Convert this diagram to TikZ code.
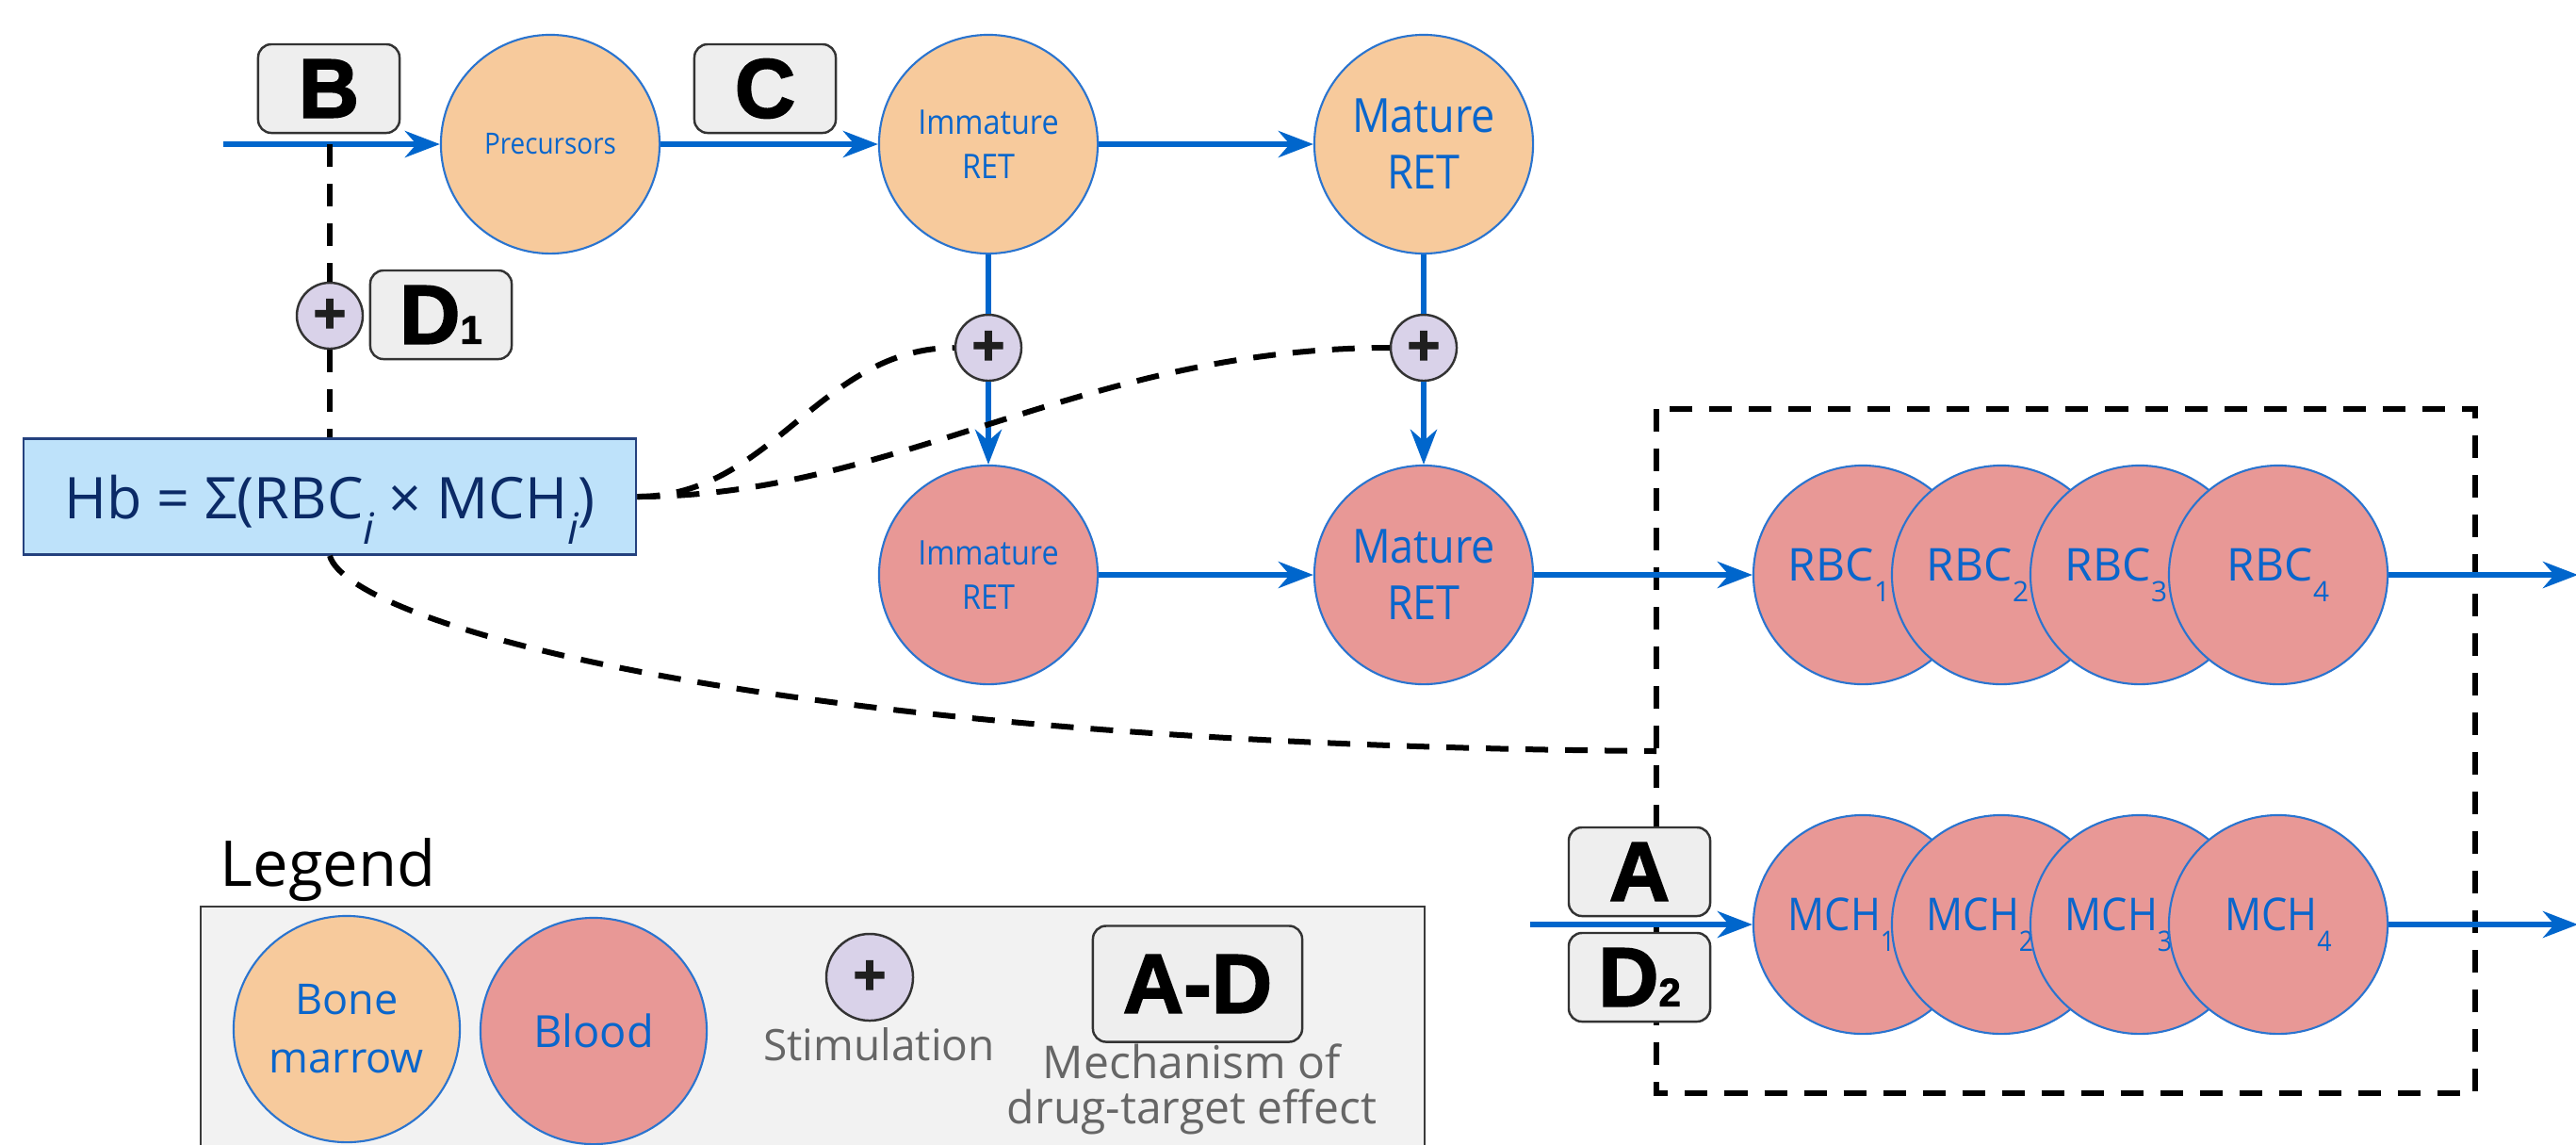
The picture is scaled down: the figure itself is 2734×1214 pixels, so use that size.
\documentclass[tikz,border=0pt]{standalone}
\usepackage{fontspec}
\usepackage{graphicx}
\setmainfont{Open Sans}
\newfontfamily\cellfont[FakeStretch=0.9]{Open Sans}
\newfontfamily\lblfont[BoldFeatures={FakeBold=2}]{Liberation Sans}
\usetikzlibrary{arrows.meta}
\definecolor{bmfill}{HTML}{F7CA9C}
\definecolor{blfill}{HTML}{E89896}
\definecolor{cellborder}{HTML}{2A74CF}
\definecolor{celltext}{HTML}{0A66CC}
\definecolor{flowblue}{HTML}{0066CC}
\definecolor{hbfill}{HTML}{BEE2FA}
\definecolor{hbborder}{HTML}{24417E}
\definecolor{hbtext}{HTML}{0B2A66}
\definecolor{lblfill}{HTML}{EEEEEE}
\definecolor{lblborder}{HTML}{333333}
\definecolor{plusfill}{HTML}{D9D2E9}
\definecolor{legfill}{HTML}{F2F2F2}
\definecolor{legborder}{HTML}{3A3A3A}
\definecolor{graytext}{HTML}{666666}
\newcommand\sbs[1]{\raisebox{-0.45em}{\scalebox{0.62}{#1}}}
\newcommand\isub{\raisebox{-0.45em}{\scalebox{0.75}{\itshape i}}}
\tikzset{
  cell/.style={circle, minimum size=2.32cm, inner sep=0pt, draw=cellborder, line width=0.6pt, text=celltext},
  bm/.style={cell, fill=bmfill},
  bl/.style={cell, fill=blfill},
  lbl/.style={rectangle, rounded corners=0.14cm, minimum width=1.5cm, minimum height=0.94cm, inner sep=0pt,
    fill=lblfill, draw=lblborder, line width=0.7pt, text=black,
    font={\lblfont\bfseries\fontsize{0.89cm}{1cm}\selectfont}},
  plusnode/.style={circle, minimum size=0.7cm, inner sep=0pt, fill=plusfill, draw=lblborder, line width=0.7pt,
    text=black!88, font={\lblfont\bfseries\fontsize{0.6cm}{0.6cm}\selectfont}},
  flow/.style={draw=flowblue, line width=0.06cm, -{Stealth[length=0.37cm, width=0.28cm, inset=0.12cm]}},
  flowline/.style={draw=flowblue, line width=0.06cm},
  dashline/.style={draw=black, line width=0.06cm, dash pattern=on 0.24cm off 0.18cm},
  legendframe/.style={draw=legborder, fill=legfill, line width=0.8pt},
}
\begin{document}
\begin{tikzpicture}[x=0.01cm,y=-0.01cm]
\useasboundingbox (0,0) rectangle (2734,1214);
\clip (0,0) rectangle (2734,1214);
% frames
\draw[dashline] (1758,434) rectangle (2627,1160);
\draw[legendframe] (213,962) rectangle (1512,1240);
% free ends
\coordinate (in0) at (237,153);
\coordinate (bj) at (350,153);
\coordinate (in2) at (1624,981);
\coordinate (out1) at (2736,610);
\coordinate (out2) at (2736,981);
\coordinate (dl) at (1758,797);
% bone marrow
\node[bm, font={\cellfont\fontsize{0.31cm}{0.37cm}\selectfont}] (prec) at (584,153) {Precursors};
\node[bm, align=center, font={\cellfont\fontsize{0.36cm}{0.47cm}\selectfont}] (imb) at (1049,153) {Immature\\RET};
\node[bm, align=center, font={\cellfont\fontsize{0.5cm}{0.6cm}\selectfont}] (mab) at (1511,153) {Mature\\RET};
% blood
\node[bl, align=center, font={\cellfont\fontsize{0.36cm}{0.47cm}\selectfont}] (iml) at (1049,610) {Immature\\RET};
\node[bl, align=center, font={\cellfont\fontsize{0.5cm}{0.6cm}\selectfont}] (mal) at (1511,610) {Mature\\RET};
\foreach \k/\xx in {1/1977,2/2124,3/2271}{
  \node[bl, font={\fontsize{0.48cm}{0.56cm}\selectfont}] (rbc\k) at (\xx,610) {RBC\sbs{\k}\kern0.5cm};
}
\node[bl, font={\fontsize{0.48cm}{0.56cm}\selectfont}] (rbc4) at (2418,610) {RBC\sbs{4}};
\foreach \k/\xx in {1/1977,2/2124,3/2271}{
  \node[bl, font={\cellfont\fontsize{0.48cm}{0.56cm}\selectfont}] (mch\k) at (\xx,981) {MCH\sbs{\k}\kern0.45cm};
}
\node[bl, font={\cellfont\fontsize{0.48cm}{0.56cm}\selectfont}] (mch4) at (2418,981) {MCH\sbs{4}};
% stimulation
\node[plusnode] (p0) at (350,335) {+};
\node[plusnode] (p1) at (1049,369) {+};
\node[plusnode] (p2) at (1511,369) {+};
% formula
\node[rectangle, minimum width=6.5cm, minimum height=1.23cm, inner sep=0pt, fill=hbfill, draw=hbborder,
  line width=0.7pt, text=hbtext, text height=0.46cm, text depth=0pt,
  font={\fontsize{0.61cm}{0.7cm}\selectfont}] (hb) at (350,527) {Hb = Σ(RBC\isub{} × MCH\isub{})};
% mechanism labels
\node[lbl] (lB) at (349,94) {B};
\node[lbl] (lC) at (812,94) {C};
\node[lbl] (lD1) at (468,334) {D{\fontsize{0.42cm}{0.5cm}\selectfont 1}};
\node[lbl] (lA) at (1740,925) {A};
\node[lbl] (lD2) at (1740,1037) {D{\fontsize{0.42cm}{0.5cm}\selectfont 2}};
% flows
\draw[flow] (in0) -- (prec);
\draw[flow] (prec) -- (imb);
\draw[flow] (imb) -- (mab);
\draw[flowline] (imb) -- (p1);
\draw[flow] (p1) -- (iml);
\draw[flowline] (mab) -- (p2);
\draw[flow] (p2) -- (mal);
\draw[flow] (iml) -- (mal);
\draw[flow] (mal) -- (rbc1);
\draw[flow] (rbc4) -- (out1);
\draw[flow] (in2) -- (mch1);
\draw[flow] (mch4) -- (out2);
% dashed influences
\draw[dashline] (bj) -- (p0);
\draw[dashline] (p0) -- (hb);
\draw[dashline] (hb.east) .. controls (820,527) and (870,369) .. (p1.west);
\draw[dashline] (hb.east) .. controls (950,527) and (1150,369) .. (p2.west);
\draw[dashline] (hb.south) .. controls (370,660) and (800,790) .. (dl);
% legend
\node[anchor=base west, inner sep=0pt, text=black, font={\fontsize{0.67cm}{0.8cm}\selectfont}] (legtitle) at (233,940) {Legend};
\node[cell, fill=bmfill, minimum size=2.4cm, align=center, font={\fontsize{0.45cm}{0.62cm}\selectfont}] (legbm) at (368,1092) {Bone\\marrow};
\node[cell, fill=blfill, minimum size=2.4cm, font={\fontsize{0.47cm}{0.6cm}\selectfont}] (legbl) at (630,1094) {Blood};
\node[plusnode, minimum size=0.92cm] (legplus) at (923,1037) {+};
\node[anchor=base, inner sep=0pt, text=graytext, font={\fontsize{0.46cm}{0.55cm}\selectfont}] (legstim) at (933,1125) {Stimulation};
\node[lbl, minimum width=2.22cm, minimum height=1.23cm] (legad) at (1271,1044) {A-D};
\node[anchor=base, inner sep=0pt, align=center, text=graytext, font={\fontsize{0.48cm}{0.48cm}\selectfont}] (legmech) at (1265,1192) {Mechanism of\\drug-target effect};
\end{tikzpicture}
\end{document}
